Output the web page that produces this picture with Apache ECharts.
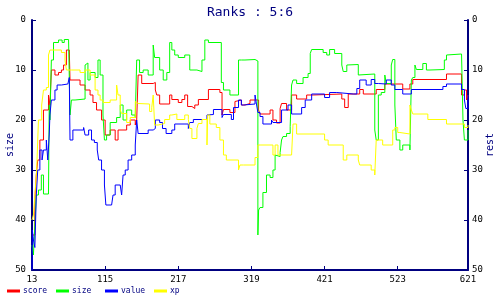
<!DOCTYPE html>
<html>
<head>
<meta charset="utf-8">
<script src="https://cdn.jsdelivr.net/npm/echarts@6/dist/echarts.min.js"></script>
<style>html,body{margin:0;padding:0;background:#fff}#c{width:500px;height:300px}</style>
</head>
<body>
<div id="c"></div>
<script>
var titleText = 'Ranks : 5:6';
var seriesNames = ['score', 'size', 'value', 'xp'];
var xTicks = [13, 115, 217, 319, 421, 523, 621];
var yTicks = [0, 10, 20, 30, 40, 50];

var scoreData = [[13,43],[15,43],[17,36],[19,31],[21,28],[24,24],[29,18],[36,15],[38,17],[40,10],[45,11],[50,10.5],[54,10],[57,9],[61,6],[65,6],[66,12],[73,12],[80,13],[87,14],[94,15],[98,16.5],[103,18],[110,20],[115,23],[122,22],[129,24],[133,22],[145,21],[150,20],[157,21],[159,20],[161,11],[166,12.7],[182,12.5],[185,14],[187,15],[191,16.8],[205,15],[208,15.9],[217,16.5],[222,15.9],[226,15],[230,17.3],[236,17.7],[240,17],[245,15.9],[259,13.9],[275,14.5],[278,19],[280,17.9],[289,18.5],[296,16.3],[298,16],[305,17],[310,16.7],[317,16],[329,18],[331,18.8],[345,18],[349,20],[354,20.6],[359,17.7],[361,16.7],[368,18],[375,15],[382,15.8],[396,15],[405,14.8],[445,15.8],[449,17.5],[454,14.8],[470,13.9],[475,14.8],[493,13.9],[505,12.8],[530,13.8],[540,12.8],[544,11.9],[591,10.8],[612,15],[616,14],[619,16],[621,15]];

var sizeData = [[13,45],[15,47],[17,41],[19,35],[22,34],[26,31],[29,34.8],[36,34.8],[37,17],[38,20],[40,8],[43,4.5],[50,4],[55,4.5],[58,3.9],[64,3.9],[66,19],[68,16],[73,15.8],[87,9],[89,8.6],[91,12],[94,10.5],[101,11.5],[105,8],[108,11],[112,19],[114,24],[117,23],[122,20.5],[131,19.5],[136,17],[140,20],[145,18],[152,19],[157,19.5],[159,8],[163,10.5],[168,10],[175,11],[182,5],[184,7.5],[191,10],[196,12],[201,10.5],[205,4.5],[208,6],[212,7],[217,7.5],[226,7],[233,10],[243,10.3],[250,8],[254,4],[259,4.5],[277,12.5],[280,14],[289,15],[301,8],[305,8],[310,7.9],[324,8.2],[328,43],[329,38],[331,37.5],[335,34.5],[340,31],[345,31.5],[349,30],[352,27],[354,27.3],[359,26.5],[361,24],[363,23.3],[368,22.7],[373,21.3],[375,13],[377,12],[382,12.7],[391,11.5],[398,10.7],[401,6.7],[403,5.9],[419,6.5],[424,7],[428,5.9],[435,6.7],[445,9],[447,10.3],[452,9],[454,8.9],[468,11],[470,10.8],[491,22],[493,24],[496,15],[500,14.5],[505,11],[507,12.7],[514,9],[516,7.9],[519,17],[521,24],[526,26],[530,25],[540,26],[542,12],[544,11.5],[547,9],[549,9.9],[558,8.7],[563,10],[568,10],[570,9.9],[588,8],[591,7],[593,6.8],[612,6.8],[614,20],[616,24],[621,22]];

var valueData = [[13,50],[13.5,42],[15,44],[17,45.5],[19,35],[21,30],[24,26],[27,28],[29,26],[33,24],[35,28],[37,23],[38,19],[40,16],[45,14],[48,13],[54,12.8],[63,12.8],[65,11.5],[66,24],[70,22],[80,22],[85,21.5],[87,23],[92,22],[96,24],[100,24.5],[104,26],[106,28],[110,30],[114,33],[116,37],[124,37],[126,35],[129,33],[136,33],[138,35],[140,31],[143,30],[147,28],[152,27],[157,25],[159,20],[161,22.7],[175,22],[182,21.7],[185,20],[191,20.5],[195,21.7],[200,22.7],[208,22],[212,20.8],[231,21.7],[233,20.5],[238,19.9],[257,19],[259,18.9],[266,17.9],[278,19.5],[280,18.9],[291,19.9],[294,17.5],[301,16],[305,17],[308,16.8],[324,15],[326,16.8],[328,18.5],[331,19.3],[335,20.8],[347,20],[349,20.5],[361,18],[370,17],[375,18.8],[389,17.5],[394,16],[403,14.8],[421,15.5],[428,14.5],[438,14.8],[461,14.8],[466,13.7],[470,12],[479,13],[486,11.9],[491,12.7],[496,12.8],[507,12],[514,13],[519,13.9],[530,14.8],[542,13.9],[586,13.3],[591,12.8],[612,13.9],[616,16],[618,17.7],[621,15]];

var xpData = [[13,40],[15,39],[17,35],[19.5,30],[21,24],[22,20],[26.5,17],[29,14],[33,13.5],[36,7],[38,6],[54,6.5],[59,8],[61,10],[68,10],[80,10.5],[87,10],[94,11],[101,14],[105,15],[108,16],[112,16.5],[122,16],[131,13],[133,15],[136,18],[138,18.7],[145,20.5],[150,19.5],[157,16.3],[159,16.7],[161,16.8],[177,18.3],[180,17.5],[182,15],[184,21],[189,20.7],[198,19.9],[205,19],[208,18.8],[215,19.9],[226,19],[231,19.9],[233,21.7],[236,23.7],[243,21.7],[245,20.7],[250,19.9],[257,25],[258,19],[261,20.8],[270,21.5],[275,24],[280,27],[284,28],[301,30],[303,29],[308,29],[324,27.5],[328,25],[331,25],[349,27],[352,25],[356,27],[375,27],[377,20.8],[382,22.8],[421,24],[426,25],[447,28],[452,27],[468,28],[470,29],[486,30],[491,31],[493,24],[502,25],[516,22],[519,21.5],[523,22.5],[526,22.8],[540,17],[542,18],[544,18.8],[565,19.9],[591,20.8],[616,21.5],[621,21]];

var colors = ['#ff0000', '#00ff00', '#0000ff', '#ffff00'];
var navy = '#000080';
var mono = 'DejaVu Sans Mono';

var chart = echarts.init(document.getElementById('c'), null, {renderer: 'canvas'});

function yAxis(name, pos) {
  return {
    type: 'value', position: pos, min: 0, max: 50, interval: 10, inverse: true,
    name: name, nameLocation: 'middle', nameGap: 17, nameMoveOverlap: false,
    nameTextStyle: {color: navy, fontFamily: mono, fontSize: 10},
    axisLine: {show: true, onZero: false, lineStyle: {color: navy, width: 2}},
    axisTick: {show: true, inside: true, length: 4, lineStyle: {color: navy, width: 1}},
    axisLabel: {color: '#000', fontFamily: mono, fontSize: 9, margin: pos === 'left' ? 6 : 4,
      customValues: yTicks},
    splitLine: {show: false},
    splitArea: {show: false},
    minorSplitLine: {show: false}
  };
}

var legends = seriesNames.map(function (n, i) {
  return {
    data: [n], left: [2, 51, 100, 149][i], bottom: 0,
    icon: 'rect', itemWidth: 13, itemHeight: 3, itemGap: 0,
    textStyle: {color: navy, fontFamily: mono, fontSize: 8, padding: [0, 0, 0, -2]}
  };
});

var dataSets = [scoreData, sizeData, valueData, xpData];

chart.setOption({
  animation: false,
  backgroundColor: '#fff',
  title: {text: titleText, left: 'center', top: 1,
    textStyle: {color: navy, fontFamily: mono, fontSize: 13, fontWeight: 'normal'}},
  legend: legends,
  grid: {show: false, left: 32, right: 32, top: 20, bottom: 30, containLabel: false, outerBoundsMode: 'none'},
  xAxis: {
    type: 'value', position: 'bottom', min: 13, max: 621,
    axisLine: {show: true, onZero: false, lineStyle: {color: navy, width: 2}},
    axisTick: {show: true, inside: true, length: 4, customValues: xTicks, lineStyle: {color: navy, width: 1}},
    axisLabel: {color: '#000', fontFamily: mono, fontSize: 9, margin: 5, customValues: xTicks},
    splitLine: {show: false},
    splitArea: {show: false},
    minorSplitLine: {show: false}
  },
  yAxis: [yAxis('size', 'left'), yAxis('rest', 'right')],
  series: seriesNames.map(function (n, i) {
    return {
      name: n, type: 'line', step: 'end', data: dataSets[i],
      showSymbol: false, symbol: 'none',
      lineStyle: {color: colors[i], width: 1},
      itemStyle: {color: colors[i]}
    };
  })
});
</script>
</body>
</html>
